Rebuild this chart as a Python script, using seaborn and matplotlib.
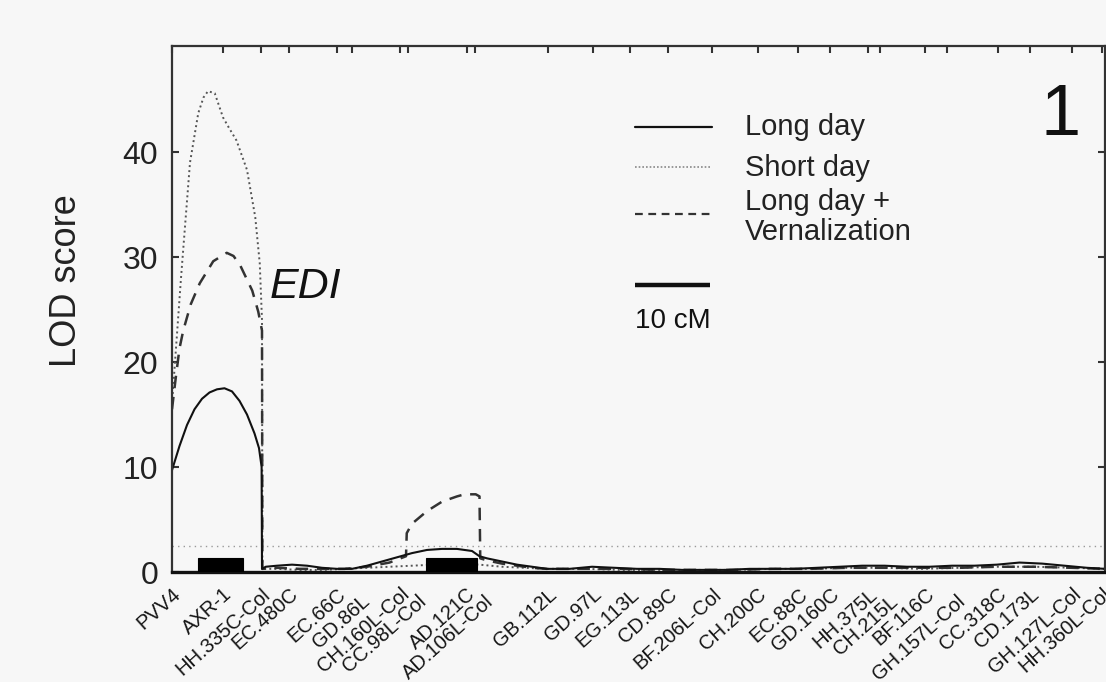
import matplotlib
matplotlib.use("Agg")
import matplotlib.pyplot as plt
from matplotlib.lines import Line2D
from matplotlib.transforms import ScaledTranslation
import seaborn as sns
import pandas as pd

# ---------------- data ----------------
marker_names = ["PVV4", "AXR-1", "HH.335C-Col", "EC.480C", "EC.66C", "GD.86L",
                "CH.160L-Col", "CC.98L-Col", "AD.121C", "AD.106L-Col", "GB.112L",
                "GD.97L", "EG.113L", "CD.89C", "BF.206L-Col", "CH.200C", "EC.88C",
                "GD.160C", "HH.375L", "CH.215L", "BF.116C", "GH.157L-Col",
                "CC.318C", "CD.173L", "GH.127L-Col", "HH.360L-Col"]
marker_cm = [0.0, 6.8, 11.9, 15.6, 22.0, 24.0, 30.4, 31.5, 39.3, 40.4, 50.1,
             56.1, 61.1, 66.1, 72.0, 78.1, 83.5, 87.7, 92.8, 94.4, 100.4, 103.3,
             110.1, 114.4, 120.0, 124.0]

ld_pos = [0, 1, 2, 3, 4, 5, 6, 7, 8, 9,
          10, 11, 11.6, 11.95, 12.0, 12.5, 14, 16, 18, 20,
          22, 24, 26, 28, 30, 32, 34, 36, 38, 40,
          41, 42, 44, 46, 48, 50, 53, 56, 59, 62,
          65, 68, 71, 74, 77, 80, 83, 86, 89, 92,
          95, 98, 101, 104, 107, 110, 113, 116, 119, 122,
          124.4]
ld_lod = [9.7, 12.0, 14.0, 15.5, 16.5, 17.1, 17.4, 17.5, 17.2, 16.3,
          15.0, 13.2, 11.8, 10.0, 0.3, 0.5, 0.6, 0.7, 0.6, 0.4,
          0.3, 0.3, 0.6, 1.0, 1.4, 1.8, 2.1, 2.2, 2.2, 2.0,
          1.5, 1.3, 1.0, 0.7, 0.5, 0.3, 0.3, 0.5, 0.4, 0.3,
          0.3, 0.2, 0.2, 0.2, 0.3, 0.3, 0.3, 0.4, 0.5, 0.6,
          0.6, 0.5, 0.5, 0.6, 0.6, 0.7, 0.9, 0.8, 0.6, 0.4,
          0.3]

sd_pos = [0, 0.3, 0.7, 1.2, 1.7, 2.4, 3.5, 4.2, 4.8, 5.7,
          6.8, 7.6, 8.6, 10, 11.1, 11.7, 12.0, 12.05,
          14, 17, 20, 23, 26, 29, 32, 35, 38, 41, 44, 47, 50,
          55, 60, 65, 70, 75, 80, 85, 90, 95, 100, 105, 110, 115, 120, 124.4]
sd_lod = [16, 19, 23, 28, 32.6, 39, 43.7, 45.2, 45.8, 45.6,
          43.3, 42.3, 41.1, 38.3, 33.8, 29.4, 24, 0.3,
          0.3, 0.2, 0.2, 0.3, 0.4, 0.5, 0.6, 0.7, 0.8, 0.7, 0.5, 0.4, 0.3,
          0.3, 0.2, 0.2, 0.2, 0.2, 0.3, 0.3, 0.4, 0.4, 0.3, 0.4, 0.5, 0.5, 0.4, 0.3]

ldv_pos = [0, 0.5, 1, 1.5, 2.5, 3.7, 5.5, 7.3, 8.2, 9.1,
           10.7, 11.5, 12.0, 12.05, 14, 17, 20, 23, 26, 29,
           31.2, 31.3, 32, 34, 36, 38, 39, 40.5, 41, 41.1,
           42, 44, 46, 48, 50, 55, 60, 65, 70, 75,
           80, 85, 90, 95, 100, 105, 110, 115, 120, 124.4]
ldv_lod = [15.5, 18.5, 21.3, 23.0, 25.5, 27.5, 29.6, 30.4, 30.1, 29.2,
           26.8, 24.8, 23, 0.3, 0.4, 0.3, 0.3, 0.3, 0.5, 0.9,
           1.5, 3.7, 4.6, 5.8, 6.7, 7.2, 7.4, 7.4, 7.2, 1.3,
           1.1, 0.8, 0.6, 0.4, 0.3, 0.3, 0.3, 0.2, 0.2, 0.2,
           0.3, 0.3, 0.4, 0.4, 0.4, 0.4, 0.5, 0.5, 0.4, 0.3]

threshold_lod = 2.5
qtl_start = [3.5, 33.9]
qtl_end = [9.5, 40.7]
qtl_height = 1.3
scale_start_cm = 61.7
scale_len_cm = 10
scale_y = 27.3

series_labels = ["Long day", "Short day", "Long day +\nVernalization"]
y_ticks = [0, 10, 20, 30, 40]

# labels printed slightly lower/right so close marker pairs do not collide
staggered_labels = {"GD.86L", "CC.98L-Col", "AD.106L-Col", "CH.215L", "GH.157L-Col"}

# ---------------- style ----------------
sns.set_theme(style="ticks")
plt.rcParams["font.family"] = ["Liberation Sans", "DejaVu Sans"]
bg = "#f7f7f7"

fig = plt.figure(figsize=(11.06, 6.82), dpi=100, facecolor=bg)
W, H = 1106, 682
ax = fig.add_axes([172 / W, 1 - 572 / H, 933 / W, 526 / H], facecolor=bg)

df_ld = pd.DataFrame({"cM": ld_pos, "LOD": ld_lod})
df_sd = pd.DataFrame({"cM": sd_pos, "LOD": sd_lod})
df_ldv = pd.DataFrame({"cM": ldv_pos, "LOD": ldv_lod})

ax.axhline(threshold_lod, color="#9a9a9a", lw=1.0, linestyle=(0, (1, 3)))

sns.lineplot(data=df_sd, x="cM", y="LOD", sort=False, estimator=None, ax=ax,
             color="#555555", lw=1.4, linestyle=(0, (1, 1.6)))
sns.lineplot(data=df_ldv, x="cM", y="LOD", sort=False, estimator=None, ax=ax,
             color="#333333", lw=1.8, linestyle=(0, (5, 3.5)))
sns.lineplot(data=df_ld, x="cM", y="LOD", sort=False, estimator=None, ax=ax,
             color="#111111", lw=1.5)

ax.bar(qtl_start, [qtl_height] * len(qtl_start),
       width=[e - s for s, e in zip(qtl_start, qtl_end)],
       align="edge", color="black", edgecolor="black", lw=0.8, zorder=3)

# scale bar
ax.plot([scale_start_cm, scale_start_cm + scale_len_cm], [scale_y, scale_y],
        color="#111111", lw=3.2, solid_capstyle="butt")
ax.text(scale_start_cm, scale_y - 3.4, "10 cM", fontsize=20, color="#111111",
        ha="left", va="center")

ax.set_xlim(0, 124.4)
ax.set_ylim(0, 50.1)

ax.set_xticks(marker_cm)
ax.tick_params(axis="x", bottom=False, top=True, labelbottom=True, labeltop=False,
               direction="in", length=5, width=1.5, color="#333333", pad=9)
ax.set_xticklabels(marker_names, rotation=42, ha="right", rotation_mode="anchor",
                   fontsize=14.5, color="#151515")
ax.set_yticks(y_ticks)
ax.tick_params(axis="y", left=True, right=True, direction="in", length=5,
               width=1.5, color="#333333", labelsize=23, labelcolor="#222222", pad=10)
ax.set_xlabel("")
ax.set_ylabel("LOD score", fontsize=26, color="#222222")
ax.yaxis.set_label_coords((84 - 172) / 933, 0.553)
for s in ax.spines.values():
    s.set_linewidth(1.6)
    s.set_color("#333333")
ax.spines["bottom"].set_linewidth(2.4)
ax.spines["bottom"].set_color("#111111")

for lab in ax.get_xticklabels():
    if lab.get_text() in staggered_labels:
        lab.set_transform(lab.get_transform() +
                          ScaledTranslation(9 / 100, -7 / 100, fig.dpi_scale_trans))

# annotations
ax.text((270 - 172) / 933, (572 - 287) / 526, "EDI", transform=ax.transAxes,
        fontsize=31, style="italic", ha="left", va="center", color="#111111")
ax.text((1061 - 172) / 933, (572 - 135) / 526, "1", transform=ax.transAxes,
        fontsize=52, ha="center", va="baseline", color="#111111")

# legend (manual)
hx0, hx1 = (635 - 172) / 933, (712 - 172) / 933
tx = (745 - 172) / 933
def fy(py):
    return (572 - py) / 526
ax.add_line(Line2D([hx0, hx1], [fy(127)] * 2, transform=ax.transAxes,
                   color="#111111", lw=1.6))
ax.add_line(Line2D([hx0, hx1], [fy(167)] * 2, transform=ax.transAxes,
                   color="#888888", lw=1.2, linestyle=(0, (1, 1.2))))
ax.add_line(Line2D([hx0, hx1], [fy(214)] * 2, transform=ax.transAxes,
                   color="#333333", lw=1.6, linestyle=(0, (3.5, 2.5))))
ax.text(tx, fy(127), series_labels[0], transform=ax.transAxes, fontsize=21,
        va="center", ha="left", color="#222222")
ax.text(tx, fy(168), series_labels[1], transform=ax.transAxes, fontsize=21,
        va="center", ha="left", color="#222222")
ax.text(tx, fy(217), series_labels[2], transform=ax.transAxes, fontsize=21,
        va="center", ha="left", color="#222222", linespacing=1.05)

fig.savefig("out.png", dpi=100, facecolor=bg)
